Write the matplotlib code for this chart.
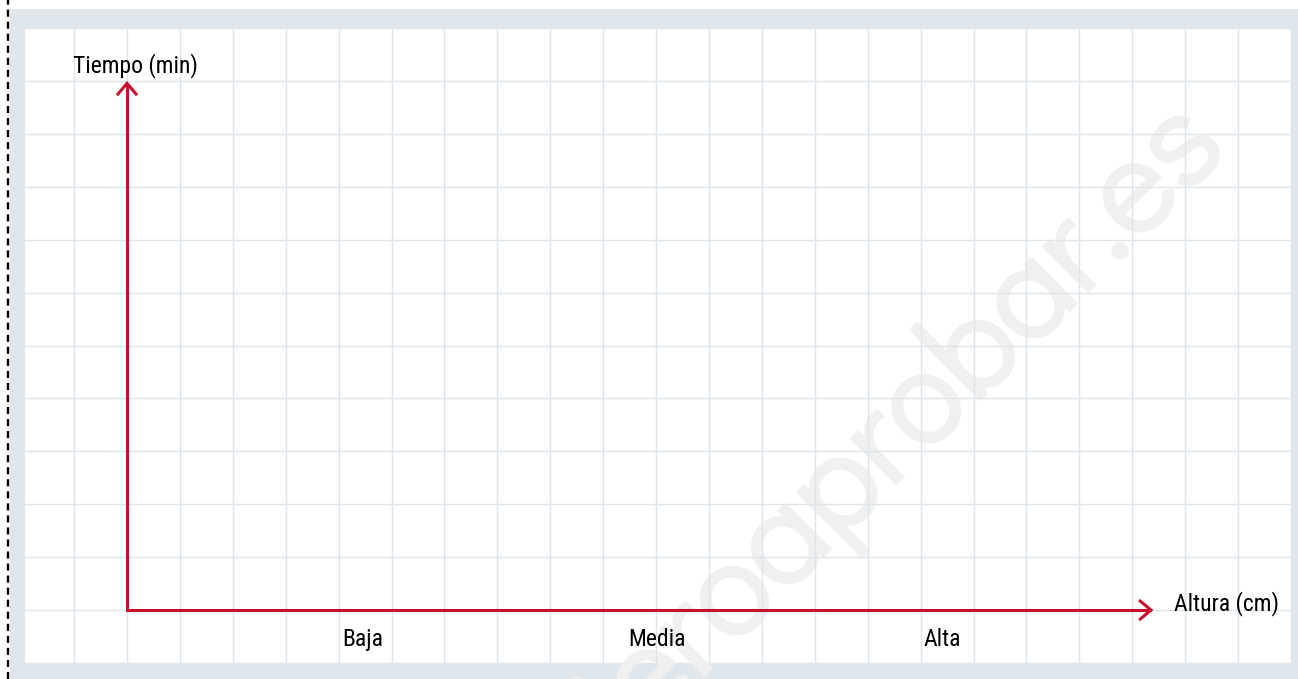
import matplotlib
matplotlib.use('Agg')
import matplotlib.pyplot as plt
import matplotlib.patheffects as pe
from matplotlib.lines import Line2D
from matplotlib.patches import Rectangle, FancyArrowPatch
from matplotlib.path import Path

# category labels along the horizontal axis and where they sit (grid units)
categorias = ['Baja', 'Media', 'Alta']
posiciones = [4.46, 10.02, 15.4]

# axis titles and how far each red axis reaches (grid units)
titulo_x = 'Altura (cm)'
titulo_y = 'Tiempo (min)'
fin_eje_x = 19.4
fin_eje_y = 10.0

ROJO = '#c8102e'
MARCO = '#dfe6ec'
CUADRICULA = '#dbe5ec'
MARCA_AGUA = '#f0f0f0'
FUENTE = ['Roboto Condensed', 'DejaVu Sans']

W, H, DPI = 1298, 679, 100
fig = plt.figure(figsize=(W / DPI, H / DPI), dpi=DPI, facecolor='white')

# dashed cut line on the left edge, grey frame and white sheet
fig.add_artist(Line2D([7.8 / W, 7.8 / W], [0, 1], transform=fig.transFigure,
                      color='black', lw=1.7, dashes=(3.0, 2.1), zorder=0))
fig.add_artist(Rectangle((10 / W, 0), 1 - 10 / W, 1 - 9 / H, transform=fig.transFigure,
                         facecolor=MARCO, edgecolor='none', zorder=0))
fig.add_artist(Rectangle((25 / W, 16 / H), 1267 / W, 635 / H, transform=fig.transFigure,
                         facecolor='white', edgecolor='none', zorder=0.1))

# site watermark, under the grid
fig.text(1230 / W, 1 - 150 / H, 'yoquieroaprobar.es', rotation=45, rotation_mode='anchor',
         ha='right', va='baseline', fontsize=98, color=MARCA_AGUA,
         family=['Didact Gothic', 'DejaVu Sans'], zorder=0.5,
         path_effects=[pe.withStroke(linewidth=2, foreground=MARCA_AGUA)])

ax = fig.add_axes([25 / W, 16 / H, 1267 / W, 635 / H])
ax.set_zorder(1)
ax.patch.set_visible(False)
ax.set_xlim(-1.928, 22.02)
ax.set_ylim(-1.0, 11.0)
ax.set_xticks(range(-1, 23))
ax.set_yticks(range(-1, 12))
ax.grid(True, color=CUADRICULA, lw=1.0)
ax.tick_params(length=0, labelbottom=False, labelleft=False)
for s in ax.spines.values():
    s.set_visible(False)
ax.set_axisbelow(True)

# both axes as one path so the corner is square
ejes = Path([(0, fin_eje_y), (0, 0), (fin_eje_x, 0)])
flecha = FancyArrowPatch(path=ejes, arrowstyle='<->,head_length=8.6,head_width=7.2',
                         mutation_scale=1, color=ROJO, lw=2.2, joinstyle='miter',
                         capstyle='butt', transform=ax.transData, zorder=3)
ax.add_patch(flecha)

ax.text(0.15, 10.3, titulo_y, ha='center', va='center', fontsize=17, family=FUENTE)
ax.text(fin_eje_x + 0.39, 0.13, titulo_x, ha='left', va='center', fontsize=17, family=FUENTE)
for nombre, x in zip(categorias, posiciones):
    ax.text(x, -0.55, nombre, ha='center', va='center', fontsize=17, family=FUENTE)

fig.savefig('out.png', dpi=DPI, facecolor='white')
